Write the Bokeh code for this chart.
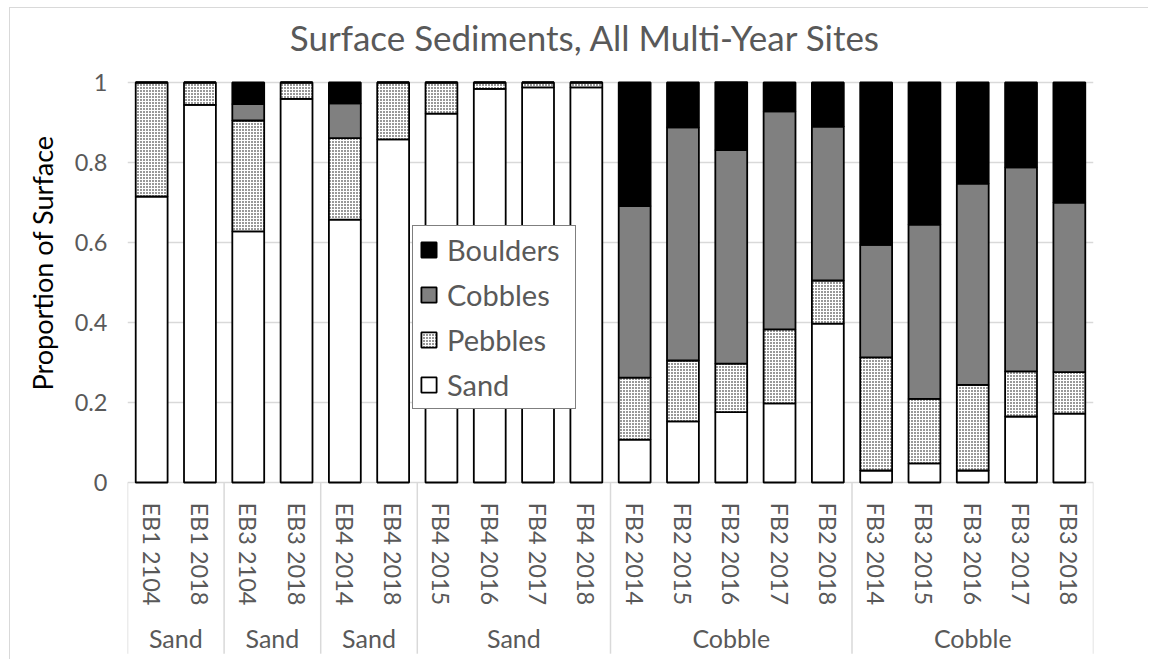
import numpy as np
from bokeh.plotting import figure
from bokeh.models import Range1d, FixedTicker, ColumnDataSource, Legend, LegendItem, Title
from bokeh.core.properties import value
from bokeh.embed import file_html
from bokeh.resources import INLINE

# ---- data ----
categories = ["EB1 2104", "EB1 2018", "EB3 2104", "EB3 2018", "EB4 2014", "EB4 2018",
              "FB4 2015", "FB4 2016", "FB4 2017", "FB4 2018",
              "FB2 2014", "FB2 2015", "FB2 2016", "FB2 2017", "FB2 2018",
              "FB3 2014", "FB3 2015", "FB3 2016", "FB3 2017", "FB3 2018"]
sand = [0.715, 0.944, 0.628, 0.959, 0.657, 0.858, 0.922, 0.984, 0.988, 0.988,
        0.107, 0.153, 0.176, 0.198, 0.397, 0.030, 0.048, 0.030, 0.165, 0.172]
pebbles = [0.285, 0.056, 0.277, 0.041, 0.204, 0.142, 0.078, 0.016, 0.012, 0.012,
           0.155, 0.152, 0.121, 0.185, 0.108, 0.283, 0.161, 0.214, 0.113, 0.104]
cobbles = [0.0, 0.0, 0.041, 0.0, 0.087, 0.0, 0.0, 0.0, 0.0, 0.0,
           0.429, 0.583, 0.534, 0.545, 0.385, 0.281, 0.436, 0.503, 0.510, 0.424]
boulders = [0.0, 0.0, 0.054, 0.0, 0.052, 0.0, 0.0, 0.0, 0.0, 0.0,
            0.309, 0.112, 0.170, 0.072, 0.110, 0.406, 0.355, 0.253, 0.212, 0.300]
group_names = ["Sand", "Sand", "Sand", "Sand", "Cobble", "Cobble"]
group_sizes = [2, 2, 2, 4, 5, 5]
y_ticks = [0, 0.2, 0.4, 0.6, 0.8, 1.0]
y_tick_labels = ["0", "0.2", "0.4", "0.6", "0.8", "1"]
series_names = ["Sand", "Pebbles", "Cobbles", "Boulders"]

FONT = "Lato"
GREY_TXT = "#595959"
GRID = "#d9d9d9"

n = len(categories)
xs = np.arange(n) + 0.5
layers = np.array([sand, pebbles, cobbles, boulders])
tops = np.cumsum(layers, axis=0)
bottoms = tops - layers

p = figure(width=1139, height=652, x_range=Range1d(0, n), y_range=Range1d(-0.445, 1.185),
           output_backend="svg", toolbar_location=None, x_axis_location=None,
           min_border_left=117, min_border_right=56, min_border_top=0, min_border_bottom=0)
p.outline_line_color = None
p.xgrid.visible = False
p.ygrid.ticker = FixedTicker(ticks=y_ticks)
p.ygrid.grid_line_color = GRID
p.ygrid.grid_line_width = 1.5

yax = p.yaxis[0]
yax.ticker = FixedTicker(ticks=y_ticks)
yax.major_label_overrides = {t: l for t, l in zip(y_ticks, y_tick_labels)}
yax.axis_line_color = None
yax.major_tick_line_color = None
yax.minor_tick_line_color = None
yax.major_tick_out = 0
yax.major_label_standoff = 20
yax.major_label_text_font = FONT
yax.major_label_text_font_size = "23.5px"
yax.major_label_text_color = GREY_TXT

# y-axis title, placed along the 0..1 value span
ytitle = Title(text="Proportion of Surface", align="left", offset=270,
               text_font=FONT, text_font_size="27px", text_font_style="normal",
               text_color="#000000", standoff=26)
p.add_layout(ytitle, "left")

fills = ["white", "white", "#808080", "black"]
hatches = [" ", "dot", " ", " "]
renderers = []
for k, name in enumerate(series_names):
    src = ColumnDataSource(dict(x=xs, bottom=bottoms[k], top=tops[k]))
    r = p.vbar(x="x", bottom="bottom", top="top", width=0.66, source=src,
               fill_color=fills[k], line_color="black", line_width=1.8,
               hatch_pattern=hatches[k], hatch_color="black", hatch_scale=3, hatch_weight=1.4)
    renderers.append(r)

# category axis region (drawn in data space below zero)
bounds = np.concatenate([[0], np.cumsum(group_sizes)])
p.segment(x0=bounds, y0=np.zeros(len(bounds)), x1=bounds, y1=np.full(len(bounds), -0.428),
          line_color=GRID, line_width=1.5)
p.text(x=xs, y=np.full(n, -0.05), text=categories, angle=-np.pi / 2,
       text_align="left", text_baseline="middle", text_font=value(FONT),
       text_font_size="23.5px", text_color=GREY_TXT)
centers = (bounds[:-1] + bounds[1:]) / 2
p.text(x=centers, y=np.full(len(centers), -0.3875), text=group_names,
       text_align="center", text_baseline="middle", text_font=value(FONT),
       text_font_size="25px", text_color=GREY_TXT)

# title
p.text(x=[9.48], y=[1.115], text=["Surface Sediments, All Multi-Year Sites"],
       text_align="center", text_baseline="middle", text_font=value(FONT),
       text_font_size="35px", text_color=GREY_TXT)

legend = Legend(items=[LegendItem(label=series_names[k], renderers=[renderers[k]]) for k in [3, 2, 1, 0]],
                location=(285, 251))
legend.label_text_font = FONT
legend.label_text_font_size = "29px"
legend.label_text_color = GREY_TXT
legend.glyph_width = 19
legend.glyph_height = 19
legend.spacing = 10
legend.padding = 6
legend.margin = 0
legend.label_standoff = 9
legend.label_width = 122
legend.border_line_color = "black"
legend.border_line_width = 1.5
legend.background_fill_color = "white"
legend.background_fill_alpha = 1
p.add_layout(legend, "center")

p.styles = {"margin-left": "9px", "margin-top": "7px",
            "border-top": "1px solid #d9d9d9", "border-left": "1px solid #d9d9d9"}

open("out.html", "w").write(file_html(p, INLINE))
